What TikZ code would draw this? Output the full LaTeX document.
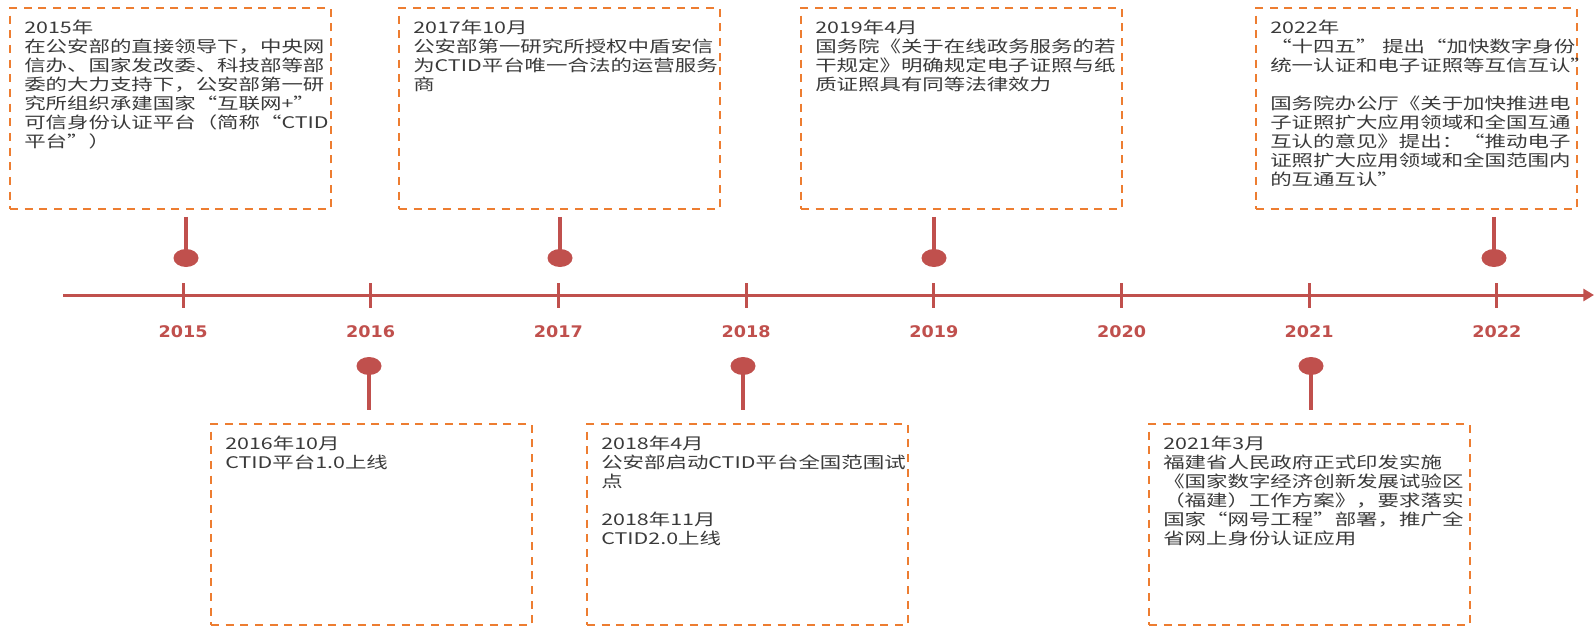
\documentclass[tikz,border=0pt]{standalone}
\usepackage{fontspec}
\usetikzlibrary{arrows.meta,shapes.geometric}

\newfontfamily\cjk[FakeStretch=1.34]{Noto Sans CJK SC}
\newfontfamily\yearfont[FakeStretch=1.1]{DejaVu Sans}

\definecolor{lineRed}{HTML}{C0504D}
\definecolor{boxOrange}{HTML}{ED7D31}
\definecolor{textGray}{HTML}{3A3A3A}

\begin{document}
\begin{tikzpicture}[x=0.75pt,y=-0.75pt,
  eventbox/.style={draw=boxOrange,line width=1.5pt,dash pattern=on 6pt off 5pt,
    minimum width=240.75pt,minimum height=150.75pt,inner sep=0pt},
  eventtext/.style={font=\cjk\fontsize{12pt}{14.25pt}\selectfont,text=textGray,
    align=left,anchor=north west,inner sep=0pt},
  pin/.style={ellipse,fill=lineRed,minimum width=18.75pt,minimum height=13.5pt,inner sep=0pt},
  stem/.style={lineRed,line width=3pt},
  tickmark/.style={lineRed,line width=2.25pt},
  axis/.style={lineRed,line width=2.25pt,-{Triangle[length=8pt,width=9pt]}},
  year/.style={font=\yearfont\bfseries\fontsize{12pt}{14pt}\selectfont,text=lineRed}]

\useasboundingbox (0,0) rectangle (1594,627);

% time axis
\coordinate (axL) at (63,295);
\coordinate (axR) at (1594,295);
\draw[axis] (axL) -- (axR);

\foreach \yr [count=\i from 0] in {2015,...,2022} {
  \coordinate (t\yr) at (183+187.7*\i,295);
  \draw[tickmark] (t\yr) ++(0,-12) -- ++(0,25);
  \node[year] (y\yr) at (183+187.7*\i,332) {\yr};
}

% events above the axis
\node[eventbox] (b15) at (170.5,108.5) {};
\node[eventtext] (x15) at ([shift={(15,13)}]b15.north west)
  {2015年\\在公安部的直接领导下，中央网\\信办、国家发改委、科技部等部\\委的大力支持下，公安部第一研\\究所组织承建国家“互联网+”\\可信身份认证平台（简称“CTID\\平台”）};

\node[eventbox] (b17) at (559.5,108.5) {};
\node[eventtext] (x17) at ([shift={(15,13)}]b17.north west)
  {2017年10月\\公安部第一研究所授权中盾安信\\为CTID平台唯一合法的运营服务\\商};

\node[eventbox] (b19) at (961.5,108.5) {};
\node[eventtext] (x19) at ([shift={(15,13)}]b19.north west)
  {2019年4月\\国务院《关于在线政务服务的若\\干规定》明确规定电子证照与纸\\质证照具有同等法律效力};

\node[eventbox] (b22) at (1416.5,108.5) {};
\node[eventtext] (x22) at ([shift={(15,13)}]b22.north west)
  {2022年\\“十四五” 提出“加快数字身份\\统一认证和电子证照等互信互认”\\[14.25pt]国务院办公厅《关于加快推进电\\子证照扩大应用领域和全国互通\\互认的意见》提出：“推动电子\\证照扩大应用领域和全国范围内\\的互通互认”};

% events below the axis
\node[eventbox] (b16) at (371.5,524.5) {};
\node[eventtext] (x16) at ([shift={(15,13)}]b16.north west)
  {2016年10月\\CTID平台1.0上线};

\node[eventbox] (b18) at (747.5,524.5) {};
\node[eventtext] (x18) at ([shift={(15,13)}]b18.north west)
  {2018年4月\\公安部启动CTID平台全国范围试\\点\\[14.25pt]2018年11月\\CTID2.0上线};

\node[eventbox] (b21) at (1309.5,524.5) {};
\node[eventtext] (x21) at ([shift={(15,13)}]b21.north west)
  {2021年3月\\福建省人民政府正式印发实施\\《国家数字经济创新发展试验区\\（福建）工作方案》，要求落实\\国家“网号工程”部署，推广全\\省网上身份认证应用};

% pins
\foreach \n/\px in {15/186,17/560,19/934,22/1494} {
  \coordinate (s\n) at (\px,217);
  \node[pin] (p\n) at (\px,258) {};
  \draw[stem] (s\n) -- (p\n.center);
}
\foreach \n/\px in {16/369,18/743,21/1311} {
  \coordinate (s\n) at (\px,410);
  \node[pin] (p\n) at (\px,366) {};
  \draw[stem] (p\n.center) -- (s\n);
}

\end{tikzpicture}
\end{document}
